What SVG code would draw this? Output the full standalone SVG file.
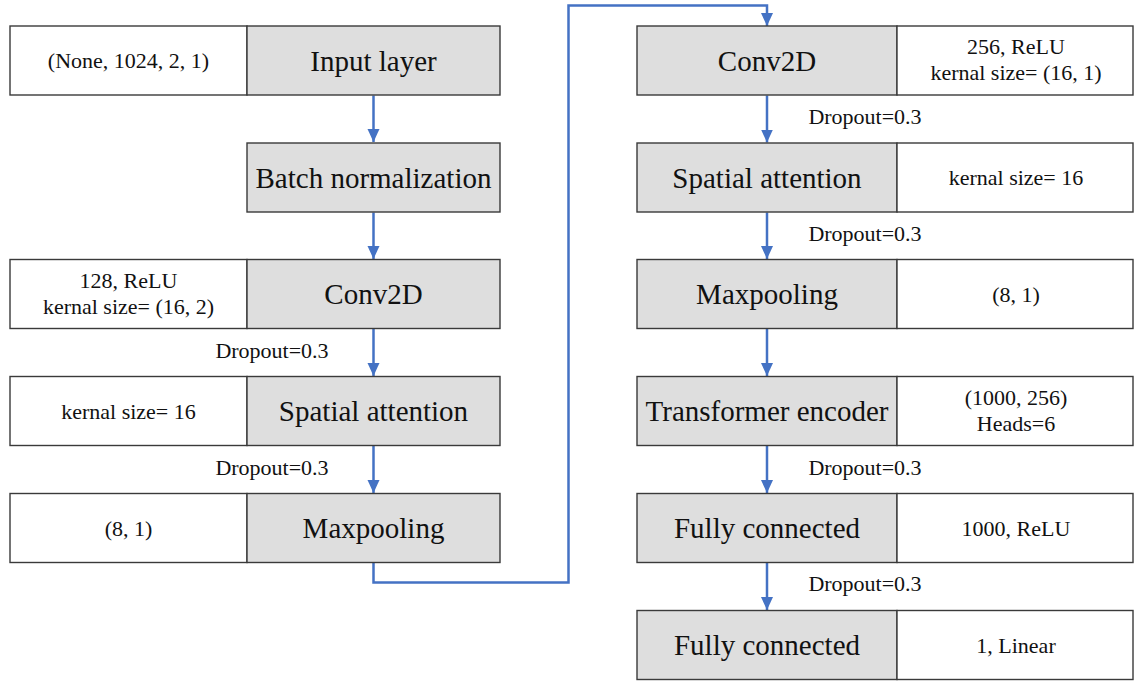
<svg xmlns="http://www.w3.org/2000/svg" width="1137" height="682" viewBox="0 0 1137 682">
<style>
.w{fill:#ffffff;stroke:#3a3a3a;stroke-width:1.4}
.g{fill:#dedede;stroke:#3a3a3a;stroke-width:1.4}
.big{font-family:"Liberation Serif","Times New Roman",serif;font-size:29px;fill:#111;text-anchor:middle}
.sm{font-family:"Liberation Serif","Times New Roman",serif;font-size:22px;fill:#111;text-anchor:middle}
.c{fill:none;stroke:#4472c4;stroke-width:2.5}
</style>
<defs>
<marker id="ah" markerUnits="userSpaceOnUse" markerWidth="14" markerHeight="14" viewBox="0 0 14 14" refX="13" refY="7" orient="auto">
<path d="M0,1 L13,7 L0,13 Z" fill="#4472c4"/>
</marker>
</defs>
<rect width="1137" height="682" fill="#ffffff"/>
<g id="connectors">
<path class="c" d="M373.5,95.5 V142" marker-end="url(#ah)"/>
<path class="c" d="M373.5,212.5 V259" marker-end="url(#ah)"/>
<path class="c" d="M373.5,328.5 V376" marker-end="url(#ah)"/>
<path class="c" d="M373.5,445.5 V493" marker-end="url(#ah)"/>
<path class="c" d="M373.5,562.5 V582.5 H568.5 V5.5 H767 V26" marker-end="url(#ah)"/>
<path class="c" d="M767,95.5 V142.5" marker-end="url(#ah)"/>
<path class="c" d="M767,212.5 V259" marker-end="url(#ah)"/>
<path class="c" d="M767,328.5 V376" marker-end="url(#ah)"/>
<path class="c" d="M767,445.5 V493" marker-end="url(#ah)"/>
<path class="c" d="M767,562.5 V610" marker-end="url(#ah)"/>
<text class="sm" x="272" y="358">Dropout=0.3</text>
<text class="sm" x="272" y="475">Dropout=0.3</text>
<text class="sm" x="865" y="124">Dropout=0.3</text>
<text class="sm" x="865" y="241">Dropout=0.3</text>
<text class="sm" x="865" y="475">Dropout=0.3</text>
<text class="sm" x="865" y="591">Dropout=0.3</text>
</g>
<g id="input-layer">
<rect class="w" x="10" y="26" width="237" height="69"/>
<rect class="g" x="247" y="26" width="253" height="69"/>
<text class="sm" x="128.5" y="68">(None, 1024, 2, 1)</text>
<text class="big" x="373.5" y="70.5">Input layer</text>
</g>
<g id="batch-normalization">
<rect class="g" x="247" y="143" width="253" height="69"/>
<text class="big" x="373.5" y="187.5">Batch normalization</text>
</g>
<g id="conv2d-1">
<rect class="w" x="10" y="259.5" width="237" height="69"/>
<rect class="g" x="247" y="259.5" width="253" height="69"/>
<text class="sm" x="128.5" y="288">128, ReLU</text>
<text class="sm" x="128.5" y="314">kernal size= (16, 2)</text>
<text class="big" x="373.5" y="304">Conv2D</text>
</g>
<g id="spatial-attention-1">
<rect class="w" x="10" y="376.5" width="237" height="69"/>
<rect class="g" x="247" y="376.5" width="253" height="69"/>
<text class="sm" x="128.5" y="418.5">kernal size= 16</text>
<text class="big" x="373.5" y="421">Spatial attention</text>
</g>
<g id="maxpooling-1">
<rect class="w" x="10" y="493.5" width="237" height="69"/>
<rect class="g" x="247" y="493.5" width="253" height="69"/>
<text class="sm" x="128.5" y="535.5">(8, 1)</text>
<text class="big" x="373.5" y="538">Maxpooling</text>
</g>
<g id="conv2d-2">
<rect class="g" x="637" y="26" width="260" height="69"/>
<rect class="w" x="897" y="26" width="236" height="69"/>
<text class="big" x="767" y="70.5">Conv2D</text>
<text class="sm" x="1016" y="54">256, ReLU</text>
<text class="sm" x="1016" y="80">kernal size= (16, 1)</text>
</g>
<g id="spatial-attention-2">
<rect class="g" x="637" y="143" width="260" height="69"/>
<rect class="w" x="897" y="143" width="236" height="69"/>
<text class="big" x="767" y="187.5">Spatial attention</text>
<text class="sm" x="1016" y="185">kernal size= 16</text>
</g>
<g id="maxpooling-2">
<rect class="g" x="637" y="259.5" width="260" height="69"/>
<rect class="w" x="897" y="259.5" width="236" height="69"/>
<text class="big" x="767" y="304">Maxpooling</text>
<text class="sm" x="1016" y="301.5">(8, 1)</text>
</g>
<g id="transformer-encoder">
<rect class="g" x="637" y="376.5" width="260" height="69"/>
<rect class="w" x="897" y="376.5" width="236" height="69"/>
<text class="big" x="767" y="421">Transformer encoder</text>
<text class="sm" x="1016" y="404.5">(1000, 256)</text>
<text class="sm" x="1016" y="430.5">Heads=6</text>
</g>
<g id="fully-connected-1">
<rect class="g" x="637" y="493.5" width="260" height="69"/>
<rect class="w" x="897" y="493.5" width="236" height="69"/>
<text class="big" x="767" y="538">Fully connected</text>
<text class="sm" x="1016" y="535.5">1000, ReLU</text>
</g>
<g id="fully-connected-2">
<rect class="g" x="637" y="610.5" width="260" height="69"/>
<rect class="w" x="897" y="610.5" width="236" height="69"/>
<text class="big" x="767" y="655">Fully connected</text>
<text class="sm" x="1016" y="652.5">1, Linear</text>
</g>
</svg>
